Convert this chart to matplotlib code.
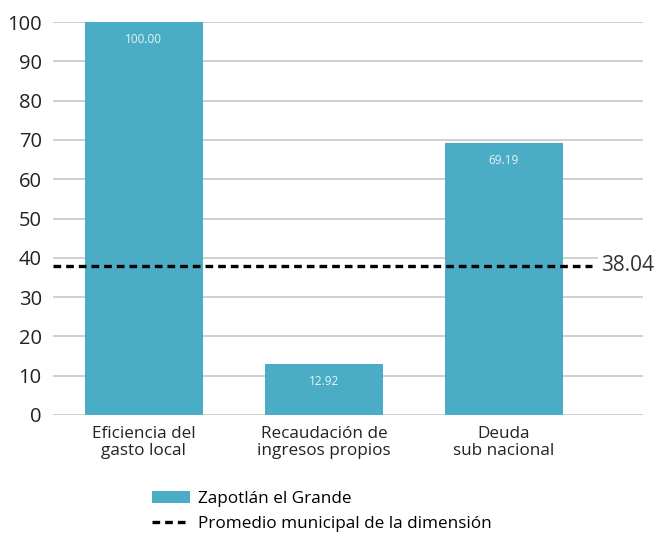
import matplotlib.pyplot as plt
from matplotlib.patches import Patch
from matplotlib.lines import Line2D

plt.rcParams['font.family'] = ['Open Sans', 'DejaVu Sans']

categorias = ["Eficiencia del\ngasto local", "Recaudación de\ningresos propios", "Deuda\nsub nacional"]
valores = [100.00, 12.92, 69.19]
promedio = 38.04
municipio = "Zapotlán el Grande"
etiqueta_promedio = "Promedio municipal de la dimensión"

color_barra = "#4BACC6"
guiones = (0, (2.3, 1.5))

fig = plt.figure(figsize=(6.6, 5.33), dpi=100)
ax = fig.add_axes([0.080, 0.2214, 0.894, 0.7373])

x = range(len(categorias))
barras = ax.bar(x, valores, width=0.655, color=color_barra, zorder=2)
for b, v in zip(barras, valores):
    ax.text(b.get_x() + b.get_width() / 2, v - 2.7, f"{v:.2f}",
            ha="center", va="top", color="#e6f3f7", fontsize=8.5, zorder=3)

ax.set_xlim(-0.506, 2.772)
ax.set_ylim(0, 100)
ax.set_yticks(range(0, 101, 10))
ax.yaxis.grid(True, color="#c8c8c8", linewidth=1.2, zorder=0)
ax.set_axisbelow(True)
for s in ax.spines.values():
    s.set_visible(False)
ax.tick_params(axis="both", length=0)
ax.tick_params(axis="y", labelsize=14.5, colors="#222222", pad=8)
ax.set_xticks(list(x))
ax.set_xticklabels(categorias, fontsize=12.3, color="#222222", linespacing=1.05)
ax.tick_params(axis="x", pad=8)

ax.plot([-0.506, 2.49], [promedio, promedio], color="black", linestyle=guiones,
        linewidth=2.4, zorder=4)
ax.text(2.54, promedio, f"{promedio:.2f}", ha="left", va="center", fontsize=15,
        color="#333333", zorder=5,
        bbox=dict(facecolor="white", edgecolor="none", pad=2))

handles = [Patch(facecolor=color_barra, edgecolor="none"),
           Line2D([0], [0], color="black", linestyle=guiones, linewidth=2.4)]
fig.legend(handles, [municipio, etiqueta_promedio], loc="upper left",
           bbox_to_anchor=(0.218, 0.095), frameon=False, fontsize=12.3,
           handlelength=2.2, handletextpad=0.45, labelspacing=0.55,
           borderpad=0, handleheight=0.65)

fig.savefig("out.png", dpi=100)
